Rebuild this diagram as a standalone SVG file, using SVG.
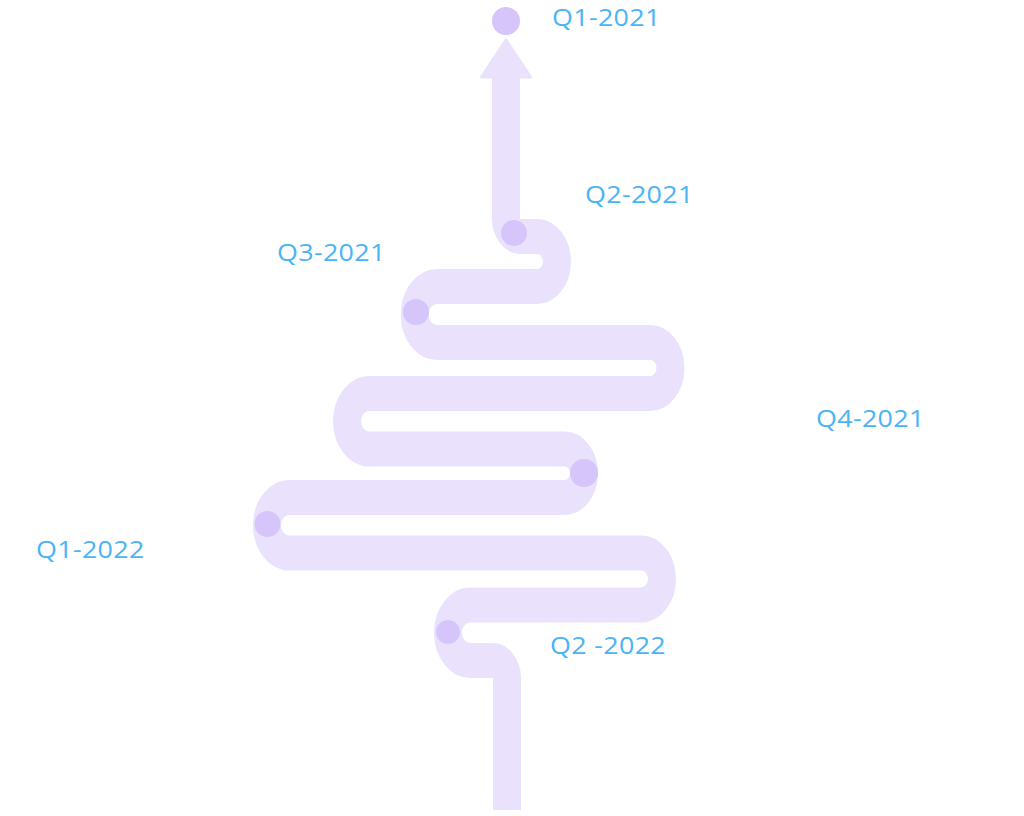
<svg xmlns="http://www.w3.org/2000/svg" width="1024" height="816" viewBox="0 0 1024 816">
<style>
.road{fill:none;stroke:#EAE2FC;stroke-width:35;stroke-linejoin:round}
.head{fill:#EAE2FC;stroke:#EAE2FC;stroke-width:3;stroke-linejoin:round}
.dot{fill:#D5C5FA}
.lbl{font-family:"Open Sans","Liberation Sans",sans-serif;font-size:24px;fill:#4BB4F5;letter-spacing:0.3px}
</style>
<rect width="1024" height="816" fill="#ffffff"/>
<g id="connectors">
<path class="road" transform="scale(0.8,1)" d="M 632.5 78 V 218.5 A 18 18 0 0 0 650.5 236.5 H 671.25 A 25 25 0 0 1 671.25 286.5 H 546.4 A 28 28 0 0 0 546.4 342.5 H 812.6 A 25.5 25.5 0 0 1 812.6 393.5 H 461.5 A 27.75 27.75 0 0 0 461.5 449 H 705.75 A 24.25 24.25 0 0 1 705.75 497.5 H 361.5 A 27.75 27.75 0 0 0 361.5 553 H 801.5 A 26 26 0 0 1 801.5 605 H 587.75 A 27.75 27.75 0 0 0 587.75 660.5 H 615.75 A 18 18 0 0 1 633.75 678.5 V 810"/>
<polygon class="head" points="506,40 530.5,77 481.5,77"/>
</g>
<g id="node-q1-2021">
<circle class="dot" cx="506" cy="21" r="14"/>
<text class="lbl" transform="translate(552,26) scale(1.12,1)">Q1-2021</text>
</g>
<g id="node-q2-2021">
<circle class="dot" cx="514" cy="233" r="13"/>
<text class="lbl" transform="translate(585,203) scale(1.12,1)">Q2-2021</text>
</g>
<g id="node-q3-2021">
<circle class="dot" cx="416" cy="312" r="13"/>
<text class="lbl" transform="translate(277,261) scale(1.12,1)">Q3-2021</text>
</g>
<g id="node-q4-2021">
<circle class="dot" cx="584" cy="473" r="14"/>
<text class="lbl" transform="translate(816,427) scale(1.12,1)">Q4-2021</text>
</g>
<g id="node-q1-2022">
<circle class="dot" cx="267.5" cy="524" r="13"/>
<text class="lbl" transform="translate(36,558) scale(1.12,1)">Q1-2022</text>
</g>
<g id="node-q2-2022">
<circle class="dot" cx="448" cy="632" r="12"/>
<text class="lbl" transform="translate(550,654) scale(1.12,1)">Q2 -2022</text>
</g>
</svg>
